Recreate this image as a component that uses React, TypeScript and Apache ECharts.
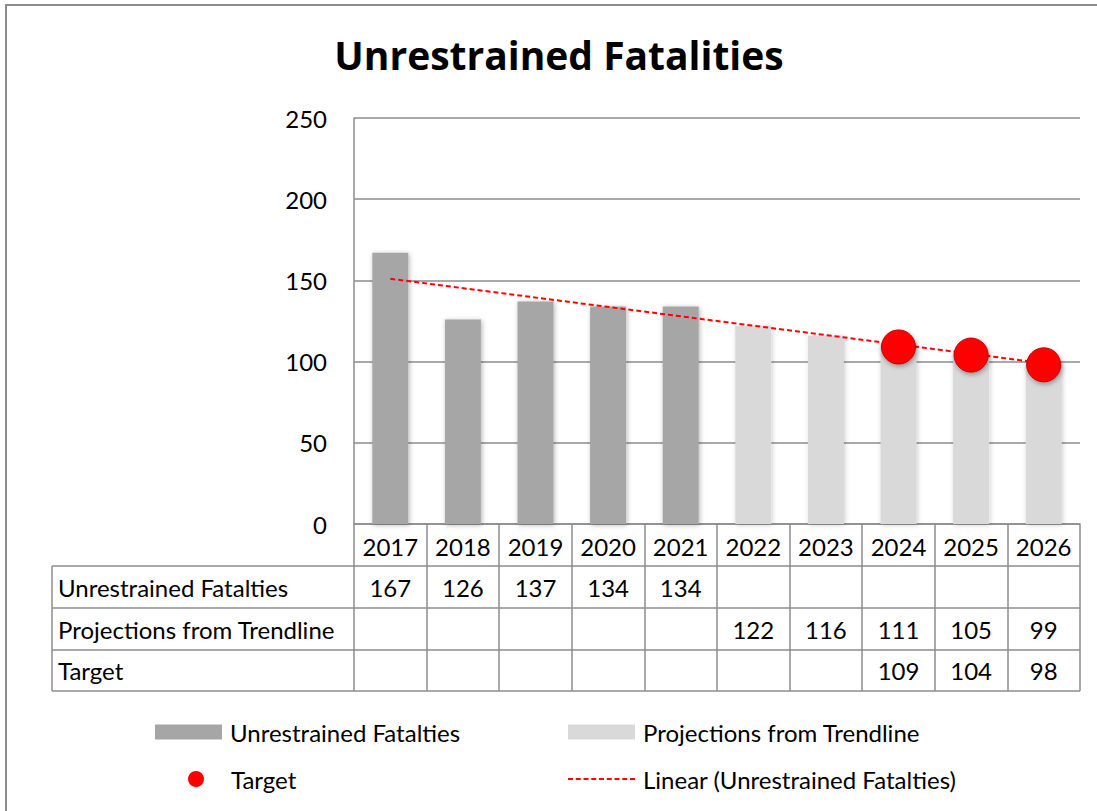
import React, { useEffect, useRef } from "react";
import * as echarts from "echarts";

const years = ["2017", "2018", "2019", "2020", "2021", "2022", "2023", "2024", "2025", "2026"];
const fatalities = [167, 126, 137, 134, 134, null, null, null, null, null];
const projections = [null, null, null, null, null, 122, 116, 111, 105, 99];
const target = [null, null, null, null, null, null, null, 109, 104, 98];
const trendEnds = [151, null, null, null, null, null, null, null, null, 99];
const yTicks = { min: 0, max: 250, interval: 50 };

const NAME_F = "Unrestrained Fatalties";
const NAME_P = "Projections from Trendline";
const NAME_T = "Target";
const NAME_L = "Linear (Unrestrained Fatalties)";

const FONT = "Lato";
const FS = 24;

const toSeries = (arr: (number | null)[]) => arr.map((v) => (v == null ? "-" : v));

// dashed legend icon (styling only)
const dashIcon = (() => {
  let d = "path://";
  for (let i = 0; i < 9; i++) {
    const x = i * 7.75;
    d += `M${x},0h5v2h-5z`;
  }
  return d;
})();

export default function App() {
  const ref = useRef<HTMLDivElement>(null);
  useEffect(() => {
    document.body.style.margin = "0";
    const chart = echarts.init(ref.current!, null, { renderer: "svg" });
    const gridLeft = 354, gridRight = 1080, gridTop = 118, gridBottom = 524;
    const rowLines = [566, 608, 650, 691];
    const rowCenters = [587, 629, 670];
    const rowNames = [NAME_F, NAME_P, NAME_T];
    const rowData = [fatalities, projections, target];
    const gray = "#8c8c8c";

    const tableAxis = (i: number) => ({
      type: "category",
      data: years,
      gridIndex: 0,
      position: "bottom",
      axisLine: { show: false },
      axisTick: { show: false },
      splitLine: { show: false },
      axisLabel: {
        interval: 0,
        margin: rowCenters[i] - gridBottom,
        verticalAlign: "middle",
        color: "#000",
        fontFamily: FONT,
        fontSize: FS,
        formatter: (_v: string, idx: number) => {
          const d = rowData[i][idx];
          return d == null ? "" : String(d);
        },
      },
    });

    const graphics: any[] = [
      {
        type: "rect",
        shape: { x: 6, y: 5, width: 1300, height: 1000 },
        style: { fill: "none", stroke: gray, lineWidth: 2 },
        silent: true,
      },
      {
        type: "line",
        shape: { x1: 52, y1: rowLines[0], x2: 52, y2: rowLines[3] },
        style: { stroke: gray, lineWidth: 1.5 },
      },
    ];
    rowLines.forEach((y) =>
      graphics.push({
        type: "line",
        shape: { x1: 52, y1: y, x2: gridRight, y2: y },
        style: { stroke: gray, lineWidth: 1.5 },
      })
    );
    rowNames.forEach((n, i) =>
      graphics.push({
        type: "text",
        x: 58,
        y: rowCenters[i],
        style: { text: n, fill: "#000", font: `${FS}px ${FONT}`, verticalAlign: "middle", align: "left" },
      })
    );

    const legendBase = {
      orient: "horizontal",
      padding: 0,
      itemGap: 0,
      textStyle: { color: "#000", fontFamily: FONT, fontSize: FS, padding: [0, 0, 0, 3] },
    };

    chart.setOption({
      animation: false,
      backgroundColor: "#fff",
      title: {
        text: "Unrestrained Fatalities",
        left: 554,
        textAlign: "center",
        top: 30,
        textStyle: { fontFamily: "Open Sans", fontWeight: "bold", fontSize: 39, color: "#000" },
      },
      grid: {
        left: gridLeft,
        right: 1097 - gridRight,
        top: gridTop,
        bottom: 811 - gridBottom,
        containLabel: false,
      },
      legend: [
        { ...legendBase, data: [{ name: NAME_F, icon: "rect" }], left: 155, top: 720, itemWidth: 67, itemHeight: 15 },
        { ...legendBase, data: [{ name: NAME_P, icon: "rect" }], left: 568, top: 720, itemWidth: 67, itemHeight: 15 },
        {
          ...legendBase,
          textStyle: { ...legendBase.textStyle, padding: 0 },
          data: [{ name: NAME_T, icon: "circle" }],
          left: 188,
          top: 767,
          itemWidth: 60,
          itemHeight: 16,
          itemStyle: { color: "#ff0000", borderWidth: 0, shadowBlur: 0, shadowOffsetX: 0, shadowOffsetY: 0 },
        },
        {
          ...legendBase,
          data: [{ name: NAME_L, icon: dashIcon }],
          left: 568,
          top: 767,
          itemWidth: 67,
          itemHeight: 16,
          itemStyle: { color: "#ff0000" },
        },
      ],
      xAxis: [
        {
          type: "category",
          data: years,
          boundaryGap: true,
          axisLine: { show: true, lineStyle: { color: gray, width: 1.5 } },
          axisTick: { show: true, length: rowLines[3] - gridBottom, interval: 0, lineStyle: { color: gray, width: 1.5 } },
          axisLabel: {
            interval: 0,
            margin: 546 - gridBottom,
            verticalAlign: "middle",
            color: "#000",
            fontFamily: FONT,
            fontSize: FS,
          },
          splitLine: { show: false },
        },
        tableAxis(0),
        tableAxis(1),
        tableAxis(2),
      ],
      yAxis: {
        type: "value",
        min: yTicks.min,
        max: yTicks.max,
        interval: yTicks.interval,
        axisLine: { show: true, lineStyle: { color: gray, width: 1.5 } },
        axisTick: { show: false },
        axisLabel: { color: "#000", fontFamily: FONT, fontSize: FS, margin: 27 },
        splitLine: { show: true, lineStyle: { color: gray, width: 1.5 } },
      },
      series: [
        {
          name: NAME_F,
          type: "bar",
          data: toSeries(fatalities),
          barWidth: 36,
          barGap: "-100%",
          itemStyle: {
            color: "#a6a6a6",
            shadowBlur: 5,
            shadowColor: "rgba(0,0,0,0.3)",
            shadowOffsetX: 1,
            shadowOffsetY: 1,
          },
          z: 2,
        },
        {
          name: NAME_P,
          type: "bar",
          data: toSeries(projections),
          barWidth: 36,
          barGap: "-100%",
          itemStyle: {
            color: "#d9d9d9",
            shadowBlur: 5,
            shadowColor: "rgba(0,0,0,0.2)",
            shadowOffsetX: 1,
            shadowOffsetY: 1,
          },
          z: 2,
        },
        {
          name: NAME_L,
          type: "line",
          data: toSeries(trendEnds),
          connectNulls: true,
          symbol: "none",
          lineStyle: { color: "#ff0000", width: 2, type: [5, 3] },
          itemStyle: { color: "#ff0000" },
          z: 3,
        },
        {
          name: NAME_T,
          type: "scatter",
          data: toSeries(target),
          symbol: "circle",
          symbolSize: 34,
          itemStyle: {
            color: "#ff0000",
            opacity: 1,
            borderColor: "#c00000",
            borderWidth: 1,
            shadowBlur: 5,
            shadowColor: "rgba(0,0,0,0.35)",
            shadowOffsetX: 1,
            shadowOffsetY: 2,
          },
          z: 4,
        },
      ],
      graphic: graphics,
    });
    return () => chart.dispose();
  }, []);
  return <div ref={ref} style={{ width: 1097, height: 811 }} />;
}
